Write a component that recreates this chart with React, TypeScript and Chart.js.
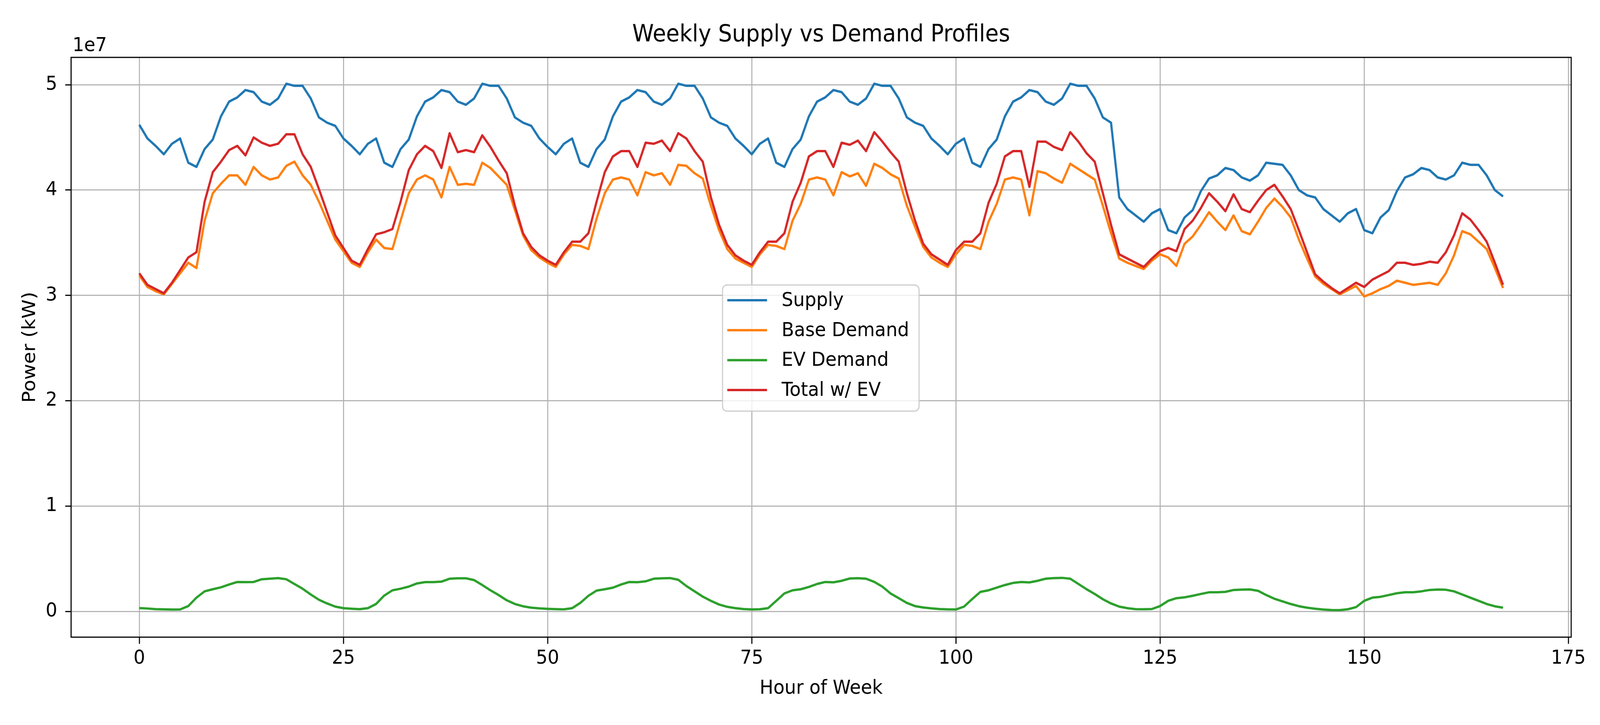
import React, { useEffect, useRef } from "react";
import { Chart, registerables } from "chart.js";

Chart.register(...registerables);

// Values in units of 1e7 kW, hour 0..167
const SUPPLY = [
  4.62, 4.49, 4.42, 4.34, 4.44, 4.49, 4.26, 4.22, 4.39, 4.48, 4.70, 4.84, 4.88, 4.95, 4.93, 4.84, 4.81, 4.87, 5.01, 4.99, 4.99, 4.87, 4.69, 4.64,
  4.61, 4.49, 4.42, 4.34, 4.44, 4.49, 4.26, 4.22, 4.39, 4.48, 4.70, 4.84, 4.88, 4.95, 4.93, 4.84, 4.81, 4.87, 5.01, 4.99, 4.99, 4.87, 4.69, 4.64,
  4.61, 4.49, 4.41, 4.34, 4.44, 4.49, 4.26, 4.22, 4.39, 4.48, 4.70, 4.84, 4.88, 4.95, 4.93, 4.84, 4.81, 4.87, 5.01, 4.99, 4.99, 4.87, 4.69, 4.64,
  4.61, 4.49, 4.42, 4.34, 4.44, 4.49, 4.26, 4.22, 4.39, 4.48, 4.70, 4.84, 4.88, 4.95, 4.93, 4.84, 4.81, 4.87, 5.01, 4.99, 4.99, 4.87, 4.69, 4.64,
  4.61, 4.49, 4.42, 4.34, 4.44, 4.49, 4.26, 4.22, 4.39, 4.48, 4.70, 4.84, 4.88, 4.95, 4.93, 4.84, 4.81, 4.87, 5.01, 4.99, 4.99, 4.87, 4.69, 4.64,
  3.93, 3.82, 3.76, 3.70, 3.78, 3.82, 3.62, 3.59, 3.74, 3.81, 3.99, 4.11, 4.14, 4.21, 4.19, 4.12, 4.09, 4.14, 4.26, 4.25, 4.24, 4.14, 4.00, 3.95,
  3.93, 3.82, 3.76, 3.70, 3.78, 3.82, 3.62, 3.59, 3.74, 3.81, 3.99, 4.12, 4.15, 4.21, 4.19, 4.12, 4.10, 4.14, 4.26, 4.24, 4.24, 4.14, 4.00, 3.94,
];

const BASE_DEMAND = [
  3.19, 3.08, 3.04, 3.01, 3.11, 3.21, 3.31, 3.26, 3.71, 3.97, 4.06, 4.14, 4.14, 4.05, 4.22, 4.14, 4.10, 4.12, 4.23, 4.27, 4.14, 4.05, 3.89, 3.71,
  3.53, 3.42, 3.31, 3.27, 3.41, 3.53, 3.45, 3.44, 3.71, 3.97, 4.10, 4.14, 4.10, 3.93, 4.22, 4.05, 4.06, 4.05, 4.26, 4.21, 4.13, 4.05, 3.81, 3.57,
  3.43, 3.36, 3.31, 3.27, 3.39, 3.48, 3.47, 3.44, 3.73, 3.97, 4.10, 4.12, 4.10, 3.95, 4.17, 4.14, 4.16, 4.05, 4.24, 4.23, 4.16, 4.11, 3.85, 3.62,
  3.44, 3.35, 3.31, 3.27, 3.39, 3.48, 3.47, 3.44, 3.71, 3.87, 4.10, 4.12, 4.10, 3.95, 4.17, 4.13, 4.16, 4.04, 4.25, 4.21, 4.15, 4.11, 3.85, 3.65,
  3.46, 3.36, 3.31, 3.27, 3.39, 3.48, 3.47, 3.44, 3.70, 3.87, 4.10, 4.12, 4.10, 3.76, 4.18, 4.16, 4.11, 4.07, 4.25, 4.20, 4.15, 4.10, 3.85, 3.59,
  3.35, 3.31, 3.28, 3.25, 3.33, 3.39, 3.36, 3.28, 3.49, 3.56, 3.67, 3.79, 3.70, 3.62, 3.76, 3.61, 3.58, 3.70, 3.83, 3.92, 3.84, 3.74, 3.53, 3.35,
  3.18, 3.11, 3.06, 3.01, 3.05, 3.09, 2.99, 3.02, 3.06, 3.09, 3.14, 3.12, 3.10, 3.11, 3.12, 3.10, 3.21, 3.38, 3.61, 3.58, 3.51, 3.44, 3.26, 3.07,
];

const EV_DEMAND = [
  0.031, 0.027, 0.021, 0.019, 0.017, 0.018, 0.05, 0.13, 0.19, 0.21, 0.228, 0.255, 0.279, 0.278, 0.279, 0.305, 0.31, 0.316, 0.305, 0.26, 0.215, 0.16, 0.11, 0.075,
  0.045, 0.03, 0.025, 0.021, 0.03, 0.07, 0.15, 0.2, 0.215, 0.235, 0.265, 0.278, 0.278, 0.282, 0.31, 0.314, 0.314, 0.297, 0.25, 0.2, 0.155, 0.105, 0.07, 0.048,
  0.035, 0.028, 0.024, 0.021, 0.019, 0.03, 0.08, 0.148, 0.197, 0.21, 0.225, 0.255, 0.279, 0.277, 0.285, 0.31, 0.314, 0.316, 0.30, 0.24, 0.19, 0.14, 0.10, 0.065,
  0.043, 0.03, 0.022, 0.018, 0.02, 0.03, 0.10, 0.17, 0.2, 0.21, 0.232, 0.26, 0.279, 0.276, 0.29, 0.312, 0.315, 0.31, 0.28, 0.235, 0.17, 0.125, 0.08, 0.05,
  0.037, 0.028, 0.022, 0.019, 0.018, 0.045, 0.117, 0.185, 0.2, 0.225, 0.25, 0.27, 0.279, 0.275, 0.29, 0.31, 0.316, 0.318, 0.31, 0.26, 0.21, 0.165, 0.115, 0.075,
  0.045, 0.03, 0.021, 0.02, 0.022, 0.05, 0.1, 0.125, 0.133, 0.148, 0.165, 0.181, 0.181, 0.185, 0.203, 0.206, 0.208, 0.195, 0.155, 0.12, 0.095, 0.07, 0.049, 0.035,
  0.025, 0.017, 0.013, 0.012, 0.02, 0.04, 0.1, 0.13, 0.138, 0.155, 0.172, 0.181, 0.181, 0.19, 0.203, 0.207, 0.205, 0.19, 0.16, 0.13, 0.1, 0.07, 0.048, 0.035,
];

const TOTAL_W_EV = [
  3.21, 3.10, 3.06, 3.02, 3.12, 3.24, 3.36, 3.41, 3.89, 4.17, 4.27, 4.38, 4.42, 4.33, 4.50, 4.45, 4.42, 4.44, 4.53, 4.53, 4.34, 4.22, 4.01, 3.79,
  3.57, 3.45, 3.33, 3.29, 3.44, 3.58, 3.60, 3.63, 3.89, 4.19, 4.34, 4.42, 4.37, 4.21, 4.54, 4.36, 4.38, 4.36, 4.52, 4.41, 4.28, 4.16, 3.85, 3.59,
  3.46, 3.38, 3.33, 3.29, 3.41, 3.51, 3.51, 3.59, 3.89, 4.17, 4.32, 4.37, 4.37, 4.22, 4.45, 4.44, 4.47, 4.37, 4.54, 4.49, 4.37, 4.27, 3.93, 3.67,
  3.48, 3.38, 3.33, 3.29, 3.41, 3.51, 3.51, 3.59, 3.89, 4.07, 4.32, 4.37, 4.37, 4.22, 4.45, 4.43, 4.47, 4.37, 4.55, 4.46, 4.36, 4.27, 3.97, 3.71,
  3.49, 3.39, 3.34, 3.29, 3.43, 3.51, 3.51, 3.59, 3.88, 4.06, 4.32, 4.37, 4.37, 4.03, 4.46, 4.46, 4.41, 4.38, 4.55, 4.46, 4.35, 4.27, 3.97, 3.67,
  3.39, 3.35, 3.31, 3.27, 3.35, 3.42, 3.45, 3.42, 3.63, 3.71, 3.83, 3.97, 3.89, 3.80, 3.96, 3.82, 3.79, 3.90, 4.00, 4.05, 3.94, 3.82, 3.62, 3.41,
  3.20, 3.13, 3.07, 3.02, 3.07, 3.12, 3.08, 3.15, 3.19, 3.23, 3.31, 3.31, 3.29, 3.30, 3.32, 3.31, 3.41, 3.57, 3.78, 3.72, 3.62, 3.51, 3.31, 3.10,
];

const HOURS = SUPPLY.map((_, i) => i);
const SERIES_LABELS = ["Supply", "Base Demand", "EV Demand", "Total w/ EV"];
const SERIES_COLORS = ["#1f77b4", "#ff7f0e", "#2ca02c", "#d62728"];
const X_TICKS = [0, 25, 50, 75, 100, 125, 150, 175];
const Y_TICKS = [0, 1, 2, 3, 4, 5];
const TITLE = "Weekly Supply vs Demand Profiles";
const X_LABEL = "Hour of Week";
const Y_LABEL = "Power (kW)";
const Y_OFFSET_LABEL = "1e7";

const FONT = '"DejaVu Sans", "Liberation Sans", sans-serif';
const REF_W = 4389;
const REF_H = 1857;

export default function App() {
  const canvasRef = useRef<HTMLCanvasElement | null>(null);
  const [size, setSize] = React.useState<{ w: number; h: number } | null>(null);

  useEffect(() => {
    document.body.style.margin = "0";
    document.body.style.overflow = "hidden";
    setSize({ w: window.innerWidth, h: window.innerHeight });
  }, []);

  useEffect(() => {
    const canvas = canvasRef.current;
    if (!canvas || !size) return;

    const series = [SUPPLY, BASE_DEMAND, EV_DEMAND, TOTAL_W_EV];

    const overlay = {
      id: "overlay",
      afterDraw(chart: any) {
        const { ctx, chartArea: ca } = chart;
        ctx.save();
        ctx.strokeStyle = "#000";
        ctx.lineWidth = 3;
        ctx.strokeRect(ca.left, ca.top, ca.right - ca.left, ca.bottom - ca.top);

        ctx.fillStyle = "#000";
        ctx.textBaseline = "alphabetic";
        ctx.font = `60px ${FONT}`;
        ctx.textAlign = "center";
        ctx.fillText(TITLE, (ca.left + ca.right) / 2, 106);
        ctx.font = `50px ${FONT}`;
        ctx.textAlign = "left";
        ctx.fillText(Y_OFFSET_LABEL, ca.left + 4, 131);
        ctx.textAlign = "center";
        ctx.fillText(X_LABEL, (ca.left + ca.right) / 2, 1777);
        ctx.save();
        ctx.translate(96, (ca.top + ca.bottom) / 2);
        ctx.rotate(-Math.PI / 2);
        ctx.fillText(Y_LABEL, 0, 0);
        ctx.restore();

        const bx = ca.left + 1787;
        const by = ca.top + 583;
        const bw = 539;
        const bh = 323;
        ctx.beginPath();
        if ((ctx as any).roundRect) {
          (ctx as any).roundRect(bx, by, bw, bh, 12);
        } else {
          ctx.rect(bx, by, bw, bh);
        }
        ctx.fillStyle = "rgba(255,255,255,0.8)";
        ctx.fill();
        ctx.strokeStyle = "#cccccc";
        ctx.lineWidth = 3;
        ctx.stroke();
        ctx.font = `50px ${FONT}`;
        ctx.textAlign = "left";
        ctx.textBaseline = "middle";
        SERIES_LABELS.forEach((lab, i) => {
          const ry = by + 39 + i * 76.7;
          ctx.strokeStyle = SERIES_COLORS[i];
          ctx.lineWidth = 6;
          ctx.beginPath();
          ctx.moveTo(bx + 13, ry);
          ctx.lineTo(bx + 122, ry);
          ctx.stroke();
          ctx.fillStyle = "#000";
          ctx.fillText(lab, bx + 162, ry + 2);
        });
        ctx.restore();
      },
    };

    const chart = new Chart(canvas, {
      type: "line",
      data: {
        datasets: series.map((vals, i) => ({
          label: SERIES_LABELS[i],
          data: vals.map((v, j) => ({ x: HOURS[j], y: v })),
          borderColor: SERIES_COLORS[i],
          backgroundColor: SERIES_COLORS[i],
          borderWidth: 6,
          pointRadius: 0,
          tension: 0,
          fill: false,
          borderJoinStyle: "round" as const,
          order: 3 - i,
        })),
      },
      options: {
        animation: false,
        responsive: false,
        devicePixelRatio: 1,
        layout: { padding: { top: 147, right: 79, left: 0, bottom: 0 } },
        plugins: {
          legend: { display: false },
          title: { display: false },
          tooltip: { enabled: false },
        },
        scales: {
          x: {
            type: "linear",
            min: -8.35,
            max: 175.35,
            afterBuildTicks: (scale: any) => {
              scale.ticks = X_TICKS.map((v) => ({ value: v }));
            },
            afterFit: (scale: any) => {
              scale.height = 225;
            },
            grid: {
              color: "#b0b0b0",
              lineWidth: 2.8,
              tickColor: "#000",
              tickLength: 17,
              tickWidth: 3,
            },
            border: { display: false },
            ticks: {
              color: "#000",
              font: { family: FONT, size: 50 },
              padding: 8,
              maxRotation: 0,
              autoSkip: false,
              callback: (v: any) => String(v),
            },
          },
          y: {
            type: "linear",
            min: -0.245,
            max: 5.26,
            afterBuildTicks: (scale: any) => {
              scale.ticks = Y_TICKS.map((v) => ({ value: v }));
            },
            afterFit: (scale: any) => {
              scale.width = 195;
            },
            grid: {
              color: "#b0b0b0",
              lineWidth: 2.8,
              tickColor: "#000",
              tickLength: 16,
              tickWidth: 3,
            },
            border: { display: false },
            ticks: {
              color: "#000",
              font: { family: FONT, size: 50 },
              padding: 22,
              autoSkip: false,
              callback: (v: any) => String(v),
            },
          },
        },
      },
      plugins: [overlay],
    });

    return () => {
      chart.destroy();
    };
  }, [size]);

  const w = size ? size.w : 100;
  const h = size ? size.h : 100;
  return (
    <div style={{ width: w, height: h }}>
      <canvas
        ref={canvasRef}
        width={REF_W}
        height={REF_H}
        style={{ width: w, height: h, display: "block" }}
      />
    </div>
  );
}
